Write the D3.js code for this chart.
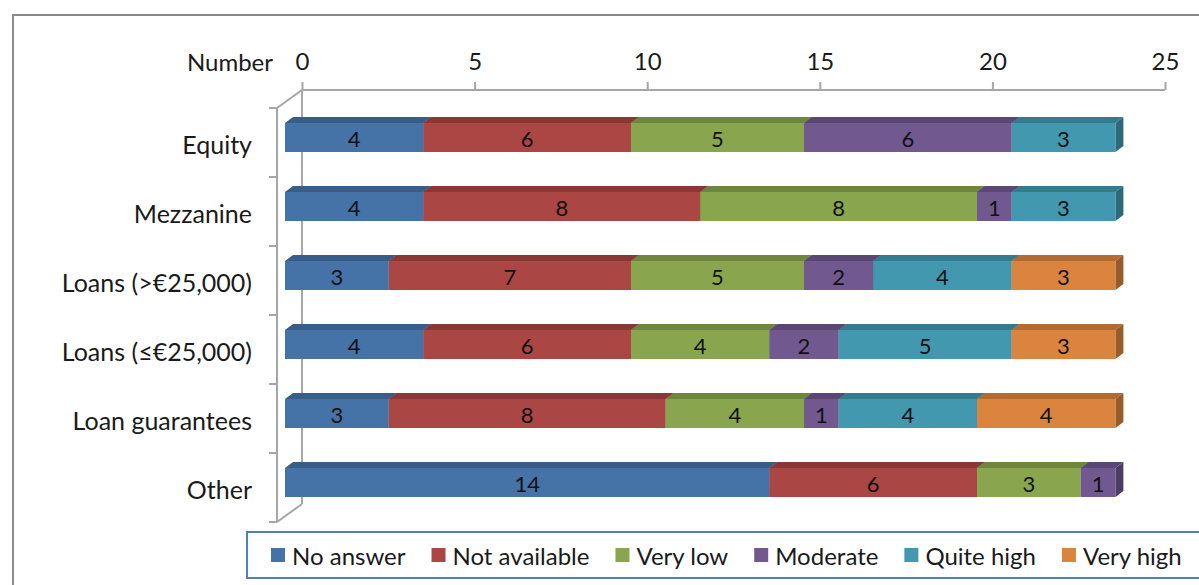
<!DOCTYPE html>
<html>
<head>
<meta charset="utf-8">
<script src="https://cdn.jsdelivr.net/npm/d3@7"></script>
<style>
  html, body { margin: 0; padding: 0; background: #fff; }
  svg { display: block; font-family: Lato, "Open Sans", sans-serif; }
</style>
</head>
<body>
<svg id="chart" width="1199" height="585"></svg>
<script>
// Funding instruments (rows) and answer categories (stacked series)
const categories = ["Equity", "Mezzanine", "Loans (>€25,000)", "Loans (≤€25,000)", "Loan guarantees", "Other"];
const seriesNames = ["No answer", "Not available", "Very low", "Moderate", "Quite high", "Very high"];
const noAnswer     = [4, 4, 3, 4, 3, 14];
const notAvailable = [6, 8, 7, 6, 8, 6];
const veryLow      = [5, 8, 5, 4, 4, 3];
const moderate     = [6, 1, 2, 2, 1, 1];
const quiteHigh    = [3, 3, 4, 5, 4, 0];
const veryHigh     = [0, 0, 3, 3, 4, 0];
const axisTicks    = [0, 5, 10, 15, 20, 25];
const axisTitle    = "Number";

const seriesValues = [noAnswer, notAvailable, veryLow, moderate, quiteHigh, veryHigh];
const frontColors = ["#4572a7", "#aa4643", "#89a54e", "#71588f", "#4198af", "#db843d"];
const topColors   = ["#385d89", "#8a3836", "#6f863f", "#5b4774", "#347b8e", "#b26b31"];
const sideColors  = ["#2f4f75", "#76302e", "#5f7336", "#4d3c63", "#2c6979", "#985b2a"];

const table = categories.map((c, i) => {
  const row = { category: c };
  seriesNames.forEach((s, k) => { row[s] = seriesValues[k][i]; });
  return row;
});
const stacked = d3.stack().keys(seriesNames)(table);

const svg = d3.select("#chart");

// outer chart frame
svg.append("path")
  .attr("d", "M13,600 L13,15 L1210,15")
  .attr("fill", "none").attr("stroke", "#8a8a8a").attr("stroke-width", 2);

// 3D projection: depth offset of the bar boxes and of the back wall
const depthX = 8, depthY = -6;
const wallDY = -18;

const xFront = d3.scaleLinear().domain([0, 25]).range([285, 285 + 25 * 34.6]);
const xWall  = d3.scaleLinear().domain([0, 25]).range([302, 1165]);
const y = d3.scaleBand().domain(categories).range([108, 522]).padding(0);
const barOffset = 15, barHeight = 29;

const axisColor = "#a6a6a6";
const plotTop = y.range()[0], plotBottom = y.range()[1];
const frontAxisX = 277;

// walls / floor edges
const frame = svg.append("g").attr("fill", "none").attr("stroke", axisColor).attr("stroke-width", 2);
frame.append("line")
  .attr("x1", xWall(0)).attr("y1", plotTop + wallDY)
  .attr("x2", xWall(0)).attr("y2", plotBottom + wallDY);
frame.append("line")
  .attr("x1", frontAxisX).attr("y1", plotTop)
  .attr("x2", frontAxisX).attr("y2", plotBottom);
frame.append("line")
  .attr("x1", frontAxisX).attr("y1", plotTop)
  .attr("x2", xWall(0)).attr("y2", plotTop + wallDY);
frame.append("line")
  .attr("x1", frontAxisX).attr("y1", plotBottom)
  .attr("x2", xWall(0)).attr("y2", plotBottom + wallDY);
// category tick marks on the front edge
frame.selectAll("line.cat")
  .data(d3.range(categories.length + 1))
  .join("line").attr("class", "cat")
  .attr("x1", frontAxisX - 8).attr("x2", frontAxisX)
  .attr("y1", i => plotTop + i * y.step()).attr("y2", i => plotTop + i * y.step());

// value axis along the top of the back wall
const xAxis = d3.axisTop(xWall).tickValues(axisTicks).tickSize(8).tickPadding(12).tickFormat(d3.format("d"));
const axisG = svg.append("g")
  .attr("transform", `translate(0,${plotTop + wallDY})`)
  .call(xAxis);
axisG.select(".domain").attr("stroke", axisColor).attr("stroke-width", 2)
  .attr("d", `M${xWall(0)},0H${xWall(25)}`);
axisG.selectAll(".tick line").attr("stroke", axisColor).attr("stroke-width", 2);
axisG.selectAll(".tick text")
  .attr("font-size", 24).attr("fill", "#1a1a1a").attr("font-family", "Lato, sans-serif")
  .attr("dy", "0em");

svg.append("text")
  .attr("x", 273).attr("y", 61)
  .attr("text-anchor", "end").attr("dominant-baseline", "central")
  .attr("font-size", 24).attr("fill", "#1a1a1a")
  .text(axisTitle);

// category labels
svg.append("g").selectAll("text")
  .data(categories).join("text")
  .attr("x", 252).attr("y", d => y(d) + 36)
  .attr("text-anchor", "end").attr("dominant-baseline", "central")
  .attr("font-size", 25).attr("fill", "#1a1a1a")
  .text(d => d);

// stacked 3D bars: each segment is a box (front, top, right side)
const bars = svg.append("g");
stacked.forEach((layer, k) => {
  layer.forEach((seg, i) => {
    const v = seg[1] - seg[0];
    if (v <= 0) return;
    const x0 = xFront(seg[0]), x1 = xFront(seg[1]);
    const yt = y(categories[i]) + barOffset, yb = yt + barHeight;
    const g = bars.append("g");
    g.append("path")
      .attr("d", `M${x0},${yt}L${x1},${yt}L${x1 + depthX},${yt + depthY}L${x0 + depthX},${yt + depthY}Z`)
      .attr("fill", topColors[k]);
    g.append("path")
      .attr("d", `M${x1},${yt}L${x1 + depthX},${yt + depthY}L${x1 + depthX},${yb + depthY}L${x1},${yb}Z`)
      .attr("fill", sideColors[k]);
    g.append("rect")
      .attr("x", x0).attr("y", yt)
      .attr("width", x1 - x0).attr("height", barHeight)
      .attr("fill", frontColors[k]);
  });
});

// value labels
const labels = svg.append("g");
stacked.forEach((layer, k) => {
  layer.forEach((seg, i) => {
    const v = seg[1] - seg[0];
    if (v <= 0) return;
    labels.append("text")
      .attr("x", (xFront(seg[0]) + xFront(seg[1])) / 2)
      .attr("y", y(categories[i]) + barOffset + barHeight / 2 + 1)
      .attr("text-anchor", "middle").attr("dominant-baseline", "central")
      .attr("font-size", 22).attr("fill", "#111")
      .text(v);
  });
});

// legend
svg.append("rect")
  .attr("x", 247).attr("y", 532).attr("width", 1000).attr("height", 46)
  .attr("fill", "none").attr("stroke", "#4f81bd").attr("stroke-width", 2);
const legend = svg.append("g");
let lx = 271;
seriesNames.forEach((s, k) => {
  legend.append("rect")
    .attr("x", lx).attr("y", 548).attr("width", 14).attr("height", 14)
    .attr("fill", frontColors[k]);
  const t = legend.append("text")
    .attr("x", lx + 21).attr("y", 555)
    .attr("dominant-baseline", "central")
    .attr("font-size", 24).attr("fill", "#1a1a1a")
    .text(s);
  lx += 21 + t.node().getComputedTextLength() + 26;
});
</script>
</body>
</html>
